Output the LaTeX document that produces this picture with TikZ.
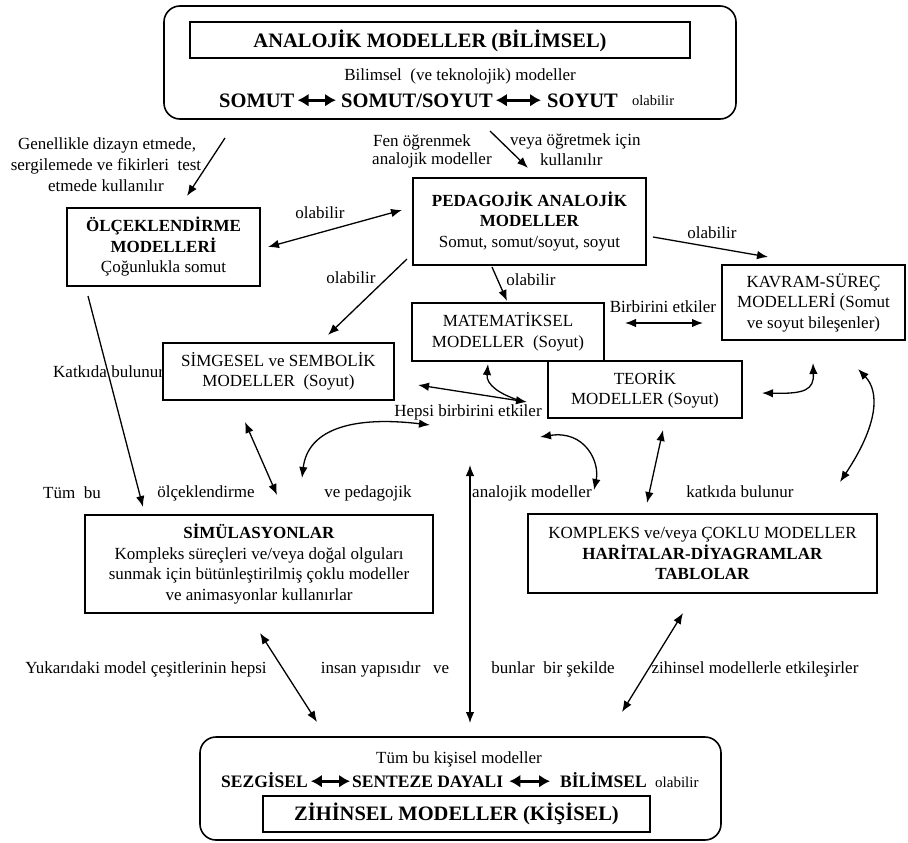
\documentclass[tikz,border=0pt]{standalone}
\usepackage{fontspec}
\setmainfont{Liberation Serif}
\usetikzlibrary{arrows.meta}
\newcommand\bodyfs{\fontsize{17}{20.5}\selectfont}
\newcommand\titlefs{\fontsize{20.5}{24}\selectfont\bfseries}
\newcommand\rowfs{\fontsize{20.5}{24}\selectfont\bfseries}
\newcommand\lowrowfs{\fontsize{17.5}{21}\selectfont\bfseries}
\newcommand\smallfs{\fontsize{14.5}{17}\selectfont}
\newcommand\midfs{\fontsize{15}{18}\selectfont}

\begin{document}
\begin{tikzpicture}[x=1pt,y=-1pt,
  box/.style={draw, line width=1.4pt, inner sep=0pt, align=center, font=\bodyfs},
  roundbox/.style={draw, line width=1.6pt, rounded corners=16pt, inner sep=0pt},
  lbl/.style={inner sep=0pt, font=\bodyfs},
  rowtxt/.style={inner sep=0pt, anchor=base west},
  arr/.style={line width=1.3pt, -{Latex[length=11pt,width=8.5pt]}},
  darr/.style={line width=1.3pt, {Latex[length=11pt,width=8.5pt]}-{Latex[length=11pt,width=8.5pt]}},
  inarr/.style={line width=3pt, {Latex[length=11pt,width=13pt]}-{Latex[length=11pt,width=13pt]}},
]
\useasboundingbox (0,0) rectangle (908,843);

% ---------- top frame: scientific analogical models ----------
\node[roundbox, minimum width=572pt, minimum height=113pt] (analog) at (450,62.5) {};
\node[draw, line width=1.4pt, inner sep=0pt, minimum width=500pt, minimum height=36pt]
  (analogtitle) at (440,40) {};
\node[inner sep=0pt, font=\titlefs] (analogtext) at (430,41) {ANALOJİK MODELLER (BİLİMSEL)};
\node[lbl] (bilimsel) at (460,76) {Bilimsel\ \ (ve teknolojik) modeller};
\node[rowtxt, font=\rowfs] (r1) at (219,107) {SOMUT};
\node[rowtxt, font=\rowfs] (r2) at (341,107) {SOMUT/SOYUT};
\node[rowtxt, font=\rowfs] (r3) at (547,107) {SOYUT};
\node[rowtxt, font=\smallfs] (r4) at (632,106) {olabilir};
\draw[inarr] ([xshift=3pt,yshift=6.8pt]r1.base east) -- ([xshift=-5pt,yshift=6.8pt]r2.base west);
\draw[inarr] ([xshift=3pt,yshift=6.8pt]r2.base east) -- ([xshift=-6pt,yshift=6.8pt]r3.base west);

% ---------- free labels ----------
\node[lbl] (g1) at (107,145) {Genellikle dizayn etmede,};
\node[lbl] (g2) at (106,166) {sergilemede ve fikirleri\ \ test};
\node[lbl] (g3) at (106,186) {etmede kullanılır};
\node[lbl, anchor=west] (f1) at (373,142) {Fen öğrenmek};
\node[lbl, anchor=west] (f2) at (372,160) {analojik modeller};
\node[lbl, anchor=west] (f3) at (510,141) {veya öğretmek için};
\node[lbl, anchor=west] (f4) at (540,160) {kullanılır};
\node[lbl] (o1) at (320,213) {olabilir};
\node[lbl] (o2) at (712,233) {olabilir};
\node[lbl] (o3) at (531,280) {olabilir};
\node[lbl] (o4) at (351,278) {olabilir};
\node[lbl] (be) at (663,307) {Birbirini etkiler};
\node[lbl, anchor=west] (kb) at (53,372) {Katkıda bulunur};
\node[lbl] (he) at (468,412) {Hepsi birbirini etkiler};
\node[lbl] (t1) at (72,493) {Tüm\ \ bu};
\node[lbl] (t2) at (206,493) {ölçeklendirme};
\node[lbl] (t3) at (368,493) {ve pedagojik};
\node[lbl, anchor=west] (t4) at (472,493) {analojik modeller};
\node[lbl] (t5) at (740,492) {katkıda bulunur};
\node[lbl] (y1) at (146,669) {Yukarıdaki model çeşitlerinin hepsi};
\node[lbl] (y2) at (385,669) {insan yapısıdır\ \ \ ve};
\node[lbl] (y3) at (553,669) {bunlar\ \ bir şekilde};
\node[lbl] (y4) at (755,669) {zihinsel modellerle etkileşirler};

% ---------- model boxes ----------
\node[box, minimum width=193pt, minimum height=78pt] (olc) at (163.5,247)
  {\textbf{ÖLÇEKLENDİRME}\\\textbf{MODELLERİ}\\Çoğunlukla somut};
\node[box, minimum width=233pt, minimum height=87pt] (ped) at (529.5,221.5)
  {\textbf{PEDAGOJİK ANALOJİK}\\\textbf{MODELLER}\\Somut, somut/soyut, soyut};
\node[box, minimum width=183pt, minimum height=75pt] (kav) at (813.5,302.5)
  {KAVRAM-SÜREÇ\\MODELLERİ (Somut\\ve soyut bileşenler)};
\node[box, minimum width=192pt, minimum height=58pt] (mat) at (508,332)
  {MATEMATİKSEL\\MODELLER\ \ (Soyut)};
\node[box, minimum width=194pt, minimum height=57pt] (teo) at (645,389.5)
  {TEORİK\\MODELLER (Soyut)};
\node[box, fill=white, minimum width=231pt, minimum height=57pt] (sim) at (278.5,371.5)
  {SİMGESEL ve SEMBOLİK\\MODELLER\ \ (Soyut)};
\node[box, minimum width=348pt, minimum height=98pt] (simul) at (259,564)
  {\textbf{SİMÜLASYONLAR}\\Kompleks süreçleri ve/veya doğal olguları\\sunmak için bütünleştirilmiş çoklu modeller\\ve animasyonlar kullanırlar};
\node[box, minimum width=349pt, minimum height=79pt] (komp) at (702.5,553.5)
  {KOMPLEKS ve/veya ÇOKLU MODELLER\\\textbf{HARİTALAR-DİYAGRAMLAR}\\\textbf{TABLOLAR}};

% ---------- bottom frame: mental models ----------
\node[roundbox, minimum width=521pt, minimum height=103pt] (mental) at (460.5,788.5) {};
\node[lbl] (tum) at (459,759) {Tüm bu kişisel modeller};
\node[rowtxt, font=\lowrowfs] (s1) at (221,787) {SEZGİSEL};
\node[rowtxt, font=\lowrowfs] (s2) at (352,787) {SENTEZE DAYALI};
\node[rowtxt, font=\lowrowfs] (s3) at (560,787) {BİLİMSEL};
\node[rowtxt, font=\midfs] (s4) at (655,787) {olabilir};
\draw[inarr] ([xshift=3pt,yshift=5.8pt]s1.base east) -- ([xshift=-2pt,yshift=5.8pt]s2.base west);
\draw[inarr] ([xshift=6pt,yshift=5.8pt]s2.base east) -- ([xshift=-10pt,yshift=5.8pt]s3.base west);
\node[draw, line width=1.4pt, inner sep=0pt, minimum width=387pt, minimum height=36pt, font=\titlefs]
  (mentaltitle) at (456.5,814) {ZİHİNSEL MODELLER (KİŞİSEL)};

% ---------- connector end points ----------
\coordinate (p1a) at (225,138); \coordinate (p1b) at (187,196);
\coordinate (p2a) at (490,131); \coordinate (p2b) at (528,168);
\coordinate (p3a) at (268,247); \coordinate (p3b) at (402,210);
\coordinate (p4a) at (407,259); \coordinate (p4b) at (328,335);
\coordinate (p5a) at (653,237); \coordinate (p5b) at (768,257);
\coordinate (p6a) at (492,267); \coordinate (p6b) at (507,301);
\coordinate (p7a) at (625,323); \coordinate (p7b) at (703,323);
\coordinate (p8a) at (88,296);  \coordinate (p8b) at (143,507);
\coordinate (p9a) at (245,422); \coordinate (p9b) at (277,495);
\coordinate (p10a) at (302,478); \coordinate (p10b) at (430,425);
\coordinate (p11a) at (418,385); \coordinate (p11b) at (527,402);
\coordinate (p12a) at (488,364); \coordinate (p12b) at (518,400);
\coordinate (p13a) at (540,437); \coordinate (p13b) at (594,490);
\coordinate (p14a) at (663,430); \coordinate (p14b) at (647,503);
\coordinate (p15a) at (762,393); \coordinate (p15b) at (813,363);
\coordinate (p16a) at (858,369); \coordinate (p16b) at (840,482);
\coordinate (p17a) at (470,465); \coordinate (p17b) at (470,723);
\coordinate (p18a) at (260,633); \coordinate (p18b) at (317,722);
\coordinate (p19a) at (683,613); \coordinate (p19b) at (622,712);

% ---------- connectors ----------
\draw[arr] (p1a) -- (p1b);
\draw[arr] (p2a) -- (p2b);
\draw[darr] (p3a) -- (p3b);
\draw[arr] (p4a) -- (p4b);
\draw[arr] (p5a) -- (p5b);
\draw[arr] (p6a) -- (p6b);
\draw[darr] (p7a) -- (p7b);
\draw[arr] (p8a) -- (p8b);
\draw[darr] (p9a) -- (p9b);
\draw[darr] (p10a) .. controls (308,428) and (355,416) .. (p10b);
\draw[darr] (p11a) -- (p11b);
\draw[arr] (p12b) .. controls (500,394) and (486,385) .. (p12a);
\draw[darr] (p13a) .. controls (585,430) and (600,462) .. (p13b);
\draw[darr] (p14a) -- (p14b);
\draw[darr] (p15a) .. controls (805,394) and (814,390) .. (p15b);
\draw[darr] (p16a) .. controls (880,392) and (878,425) .. (p16b);
\draw[darr] (p17a) -- (p17b);
\draw[darr] (p18a) -- (p18b);
\draw[darr] (p19a) -- (p19b);
\end{tikzpicture}
\end{document}
